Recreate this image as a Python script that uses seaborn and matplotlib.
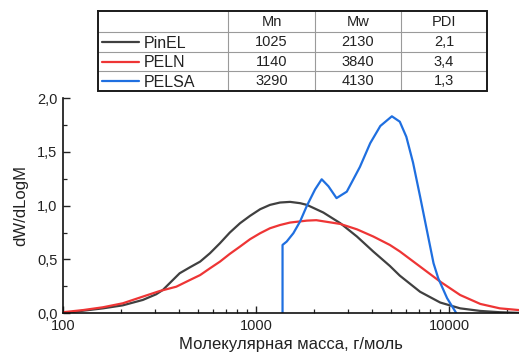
import numpy as np
import pandas as pd
import matplotlib
matplotlib.use("Agg")
import matplotlib.pyplot as plt
import seaborn as sns
from matplotlib.ticker import FixedLocator, LogLocator, NullFormatter, FuncFormatter

# ---------------- data ----------------
samples = ["PinEL", "PELN", "PELSA"]
colors = ["#404040", "#ee3535", "#1f6fe0"]

pinel_M = [100, 127, 161, 204, 259, 304, 329, 371, 402, 455, 513, 577, 650, 731, 826, 930,
           1050, 1180, 1330, 1500, 1690, 1834, 2230, 2730, 3330, 4050, 4930, 5550, 7070,
           8990, 11400, 14500, 18300, 23000]
pinel_w = [0.0, 0.024, 0.046, 0.074, 0.124, 0.177, 0.217, 0.31, 0.372, 0.428, 0.48, 0.558,
           0.651, 0.75, 0.837, 0.905, 0.967, 1.007, 1.029, 1.035, 1.023, 1.007, 0.936, 0.837,
           0.713, 0.573, 0.44, 0.35, 0.2, 0.1, 0.046, 0.022, 0.01, 0.004]

peln_M = [100, 127, 161, 204, 259, 317, 386, 455, 513, 577, 650, 731, 826, 930, 1050, 1180,
          1330, 1500, 1834, 2050, 2730, 3330, 4050, 4930, 5550, 7070, 8990, 11400, 14500,
          18300, 23000]
peln_w = [0.01, 0.03, 0.056, 0.093, 0.155, 0.207, 0.247, 0.31, 0.355, 0.418, 0.48, 0.552,
          0.62, 0.688, 0.744, 0.79, 0.82, 0.843, 0.861, 0.865, 0.83, 0.78, 0.713, 0.635,
          0.575, 0.434, 0.294, 0.17, 0.087, 0.046, 0.03]

pelsa_M = [1371, 1371, 1440, 1560, 1690, 1834, 2020, 2187, 2370, 2610, 2950, 3180, 3450,
           3900, 4400, 5050, 5550, 6000, 6500, 7070, 7660, 8300, 8780, 9760, 10900]
pelsa_w = [0.0, 0.635, 0.666, 0.744, 0.853, 1.0, 1.15, 1.245, 1.18, 1.07, 1.13, 1.24, 1.36,
           1.58, 1.74, 1.83, 1.78, 1.64, 1.40, 1.085, 0.775, 0.465, 0.325, 0.14, 0.0]

col_headers = ["", "Mn", "Mw", "PDI"]
mn_values = ["1025", "1140", "3290"]
mw_values = ["2130", "3840", "4130"]
pdi_values = ["2,1", "3,4", "1,3"]

x_ticks = [100, 1000, 10000]
y_ticks = [0.0, 0.5, 1.0, 1.5, 2.0]

# ---------------- style ----------------
sns.set_style("ticks")
plt.rcParams["font.family"] = ["Liberation Sans", "DejaVu Sans"]
plt.rcParams["text.color"] = "#222222"
plt.rcParams["axes.labelcolor"] = "#222222"
plt.rcParams["xtick.color"] = "#222222"
plt.rcParams["ytick.color"] = "#222222"

W, H = 519, 363
fig = plt.figure(figsize=(W / 100, H / 100), dpi=100)

ax_l, ax_r, ax_t, ax_b = 63, 519, 98, 313.3
ax = fig.add_axes([ax_l / W, 1 - ax_b / H, (ax_r - ax_l) / W, (ax_b - ax_t) / H])

frames = []
for name, M, w in zip(samples, [pinel_M, peln_M, pelsa_M], [pinel_w, peln_w, pelsa_w]):
    frames.append(pd.DataFrame({"M": M, "w": w, "sample": name}))
df = pd.concat(frames, ignore_index=True)

sns.lineplot(data=df, x="M", y="w", hue="sample", palette=dict(zip(samples, colors)),
             estimator=None, sort=False, legend=False, ax=ax, linewidth=1.6)

ax.set_xscale("log")
ax.set_xlim(100, 23000)
ax.set_ylim(0, 2.0)
ax.xaxis.set_major_locator(FixedLocator(x_ticks))
ax.xaxis.set_major_formatter(FuncFormatter(lambda v, p: f"{int(round(v))}"))
ax.xaxis.set_minor_locator(LogLocator(base=10, subs=np.arange(2, 10)))
ax.xaxis.set_minor_formatter(NullFormatter())
ax.yaxis.set_major_locator(FixedLocator(y_ticks))
ax.yaxis.set_major_formatter(FuncFormatter(lambda v, p: f"{v:.1f}".replace(".", ",")))
ax.yaxis.set_minor_locator(FixedLocator([0.25, 0.75, 1.25, 1.75]))

for s in ["top", "right"]:
    ax.spines[s].set_visible(False)
for s in ["left", "bottom"]:
    ax.spines[s].set_color("#111111")
    ax.spines[s].set_linewidth(1.2)

ax.tick_params(axis="both", which="major", direction="in", length=5, width=1.0, labelsize=10.5, pad=4)
ax.tick_params(axis="both", which="minor", direction="in", length=3, width=0.9)
ax.set_xlabel("Молекулярная масса, г/моль", fontsize=12, labelpad=3)
ax.set_ylabel("dW/dLogM", fontsize=12, labelpad=6)

# ---------------- table with legend ----------------
t_l, t_r, t_t, t_b = 98.3, 487.3, 11, 90.7
tax = fig.add_axes([t_l / W, 1 - t_b / H, (t_r - t_l) / W, (t_b - t_t) / H])
tax.set_xlim(t_l, t_r)
tax.set_ylim(t_b, t_t)
tax.axis("off")

vlines = [228.3, 315, 400.7]
hlines = [31.7, 51.7, 71]
for xv in vlines:
    tax.plot([xv, xv], [t_t, t_b], color="#9a9a9a", lw=0.8)
for yv in hlines:
    tax.plot([t_l, t_r], [yv, yv], color="#9a9a9a", lw=0.8)
tax.plot([t_l, t_r, t_r, t_l, t_l], [t_t, t_t, t_b, t_b, t_t], color="#1a1a1a", lw=1.4,
         solid_joinstyle="miter", clip_on=False)

col_edges = [t_l] + vlines + [t_r]
row_edges = [t_t] + hlines + [t_b]
col_c = [(col_edges[i] + col_edges[i + 1]) / 2 for i in range(4)]
row_c = [(row_edges[i] + row_edges[i + 1]) / 2 for i in range(4)]

for j in range(1, 4):
    tax.text(col_c[j], row_c[0] + 0.5, col_headers[j], ha="center", va="center", fontsize=10.5)
for i in range(3):
    yc = row_c[i + 1] + 0.5
    tax.plot([101.7, 139.3], [yc, yc], color=colors[i], lw=1.6)
    tax.text(143.3, yc + 0.8, samples[i], ha="left", va="center", fontsize=11.5)
    tax.text(col_c[1], yc, mn_values[i], ha="center", va="center", fontsize=10.5)
    tax.text(col_c[2], yc, mw_values[i], ha="center", va="center", fontsize=10.5)
    tax.text(col_c[3], yc, pdi_values[i], ha="center", va="center", fontsize=10.5)

fig.savefig("out.png", dpi=100)
